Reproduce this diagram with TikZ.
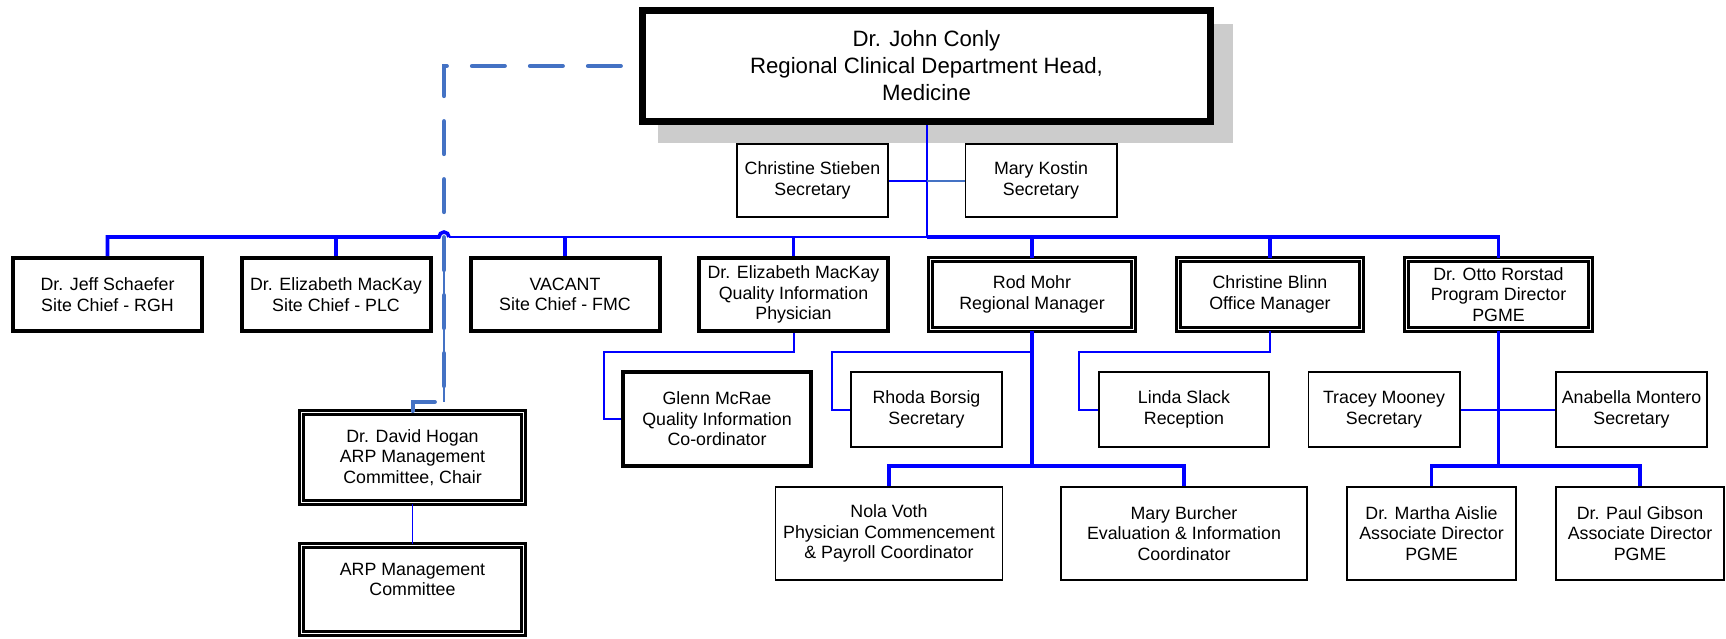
\documentclass[tikz,border=0pt]{standalone}
\usepackage{fontspec}
\setmainfont{Liberation Sans}
\definecolor{chartblue}{RGB}{0,0,255}
\definecolor{dashblue}{RGB}{68,114,196}
\definecolor{shadowgray}{RGB}{204,204,204}
\usetikzlibrary{calc}
\begin{document}
\begin{tikzpicture}[x=0.5pt, y=-0.5pt,
  headbox/.style={draw, line width=3.6pt, fill=white, align=center, inner sep=1pt,
    font=\fontsize{11.1}{13.5}\selectfont},
  chiefbox/.style={draw, line width=2pt, fill=white, align=center, inner sep=1pt,
    font=\fontsize{8.9}{10.3}\selectfont},
  mgrbox/.style={draw, line width=1.3pt, double=white, double distance=0.8pt, fill=white,
    align=center, inner sep=1pt, font=\fontsize{8.9}{10.3}\selectfont},
  staffbox/.style={draw, line width=0.8pt, fill=white, align=center, inner sep=1pt,
    font=\fontsize{8.9}{10.3}\selectfont},
  busline/.style={chartblue, line width=1.8pt},
  sideline/.style={chartblue, line width=1pt},
  dashline/.style={dashblue, line width=2pt, line cap=round,
    dash pattern=on 16.5pt off 12.5pt, dash phase=20pt}]

\useasboundingbox (0,0) rectangle (1726,638);

% head and shadow
\fill[shadowgray] (658,24) rectangle (1233,143);
\node[headbox, minimum width=284pt, minimum height=55.4pt] (head) at (926.5,66)
  {Dr. John Conly\\Regional Clinical Department Head,\\Medicine};

\node[staffbox, minimum width=75.7pt, minimum height=36.7pt] (stieben) at (812.5,180.5) {Christine Stieben\\Secretary};
\node[staffbox, minimum width=75.7pt, minimum height=36.7pt] (kostin) at (1041,180.5) {Mary Kostin\\Secretary};

% first level
\node[chiefbox, minimum width=94.5pt, minimum height=36.5pt] (schaefer) at (107.5,294.5) {Dr. Jeff Schaefer\\Site Chief - RGH};
\node[chiefbox, minimum width=94.5pt, minimum height=36.5pt] (mackayplc) at (336,294.5) {Dr. Elizabeth MacKay\\Site Chief - PLC};
\node[chiefbox, minimum width=94.5pt, minimum height=36.5pt] (vacant) at (565,294.5) {VACANT\\Site Chief - FMC};
\node[chiefbox, minimum width=94.5pt, minimum height=36.5pt] (mackayqip) at (793.5,294.5) {Dr. Elizabeth MacKay\\Quality Information\\Physician};
\node[mgrbox, minimum width=101.6pt, minimum height=35.1pt] (mohr) at (1032,294.5) {Rod Mohr\\Regional Manager};
\node[mgrbox, minimum width=91.6pt, minimum height=35.1pt] (blinn) at (1270,294.5) {Christine Blinn\\Office Manager};
\node[mgrbox, minimum width=92.1pt, minimum height=35.1pt] (rorstad) at (1498.5,294.5) {Dr. Otto Rorstad\\Program Director\\PGME};

% second level
\node[chiefbox, minimum width=94pt, minimum height=47pt] (mcrae) at (717,419) {Glenn McRae\\Quality Information\\Co-ordinator};
\node[staffbox, minimum width=75.7pt, minimum height=37.7pt] (borsig) at (926.5,409.5) {Rhoda Borsig\\Secretary};
\node[staffbox, minimum width=85.2pt, minimum height=37.7pt] (slack) at (1184,409.5) {Linda Slack\\Reception};
\node[staffbox, minimum width=75.7pt, minimum height=37.7pt] (mooney) at (1384,409.5) {Tracey Mooney\\Secretary};
\node[staffbox, minimum width=75.7pt, minimum height=37.7pt] (montero) at (1631.5,409.5) {Anabella Montero\\Secretary};

\node[staffbox, minimum width=113.4pt, minimum height=46.7pt] (voth) at (889,533.5) {Nola Voth\\Physician Commencement\\\& Payroll Coordinator};
\node[staffbox, minimum width=123.2pt, minimum height=46.7pt] (burcher) at (1184,533.5) {Mary Burcher\\Evaluation \& Information\\Coordinator};
\node[staffbox, minimum width=84.7pt, minimum height=46.7pt] (aislie) at (1431.5,533.5) {Dr. Martha Aislie\\Associate Director\\PGME};
\node[staffbox, minimum width=84.2pt, minimum height=46.7pt] (gibson) at (1640,533.5) {Dr. Paul Gibson\\Associate Director\\PGME};

% ARP committee
\node[mgrbox, minimum width=111.1pt, minimum height=45.1pt] (hogan) at (412.5,457.5) {Dr. David Hogan\\ARP Management\\Committee, Chair};
\node[mgrbox, minimum width=111.1pt, minimum height=44.1pt] (arp) at (412.5,589.5) {ARP Management\\Committee\\\mbox{}};

\coordinate (bus) at (0,237);
\coordinate (lvl2) at (0,352);
\coordinate (fork) at (0,466);
\coordinate (jog) at (444,402);

% bus line
\draw[busline] (schaefer.north) |- ([xshift=-2.5pt]jog |- bus) arc[start angle=180, end angle=0, radius=2.5pt];
\draw[busline, line width=1.3pt] ([xshift=2.5pt]jog |- bus) -- (head.south |- bus);
\draw[busline] (head.south |- bus) -| (rorstad.north);
\draw[busline] (mackayplc.north) -- (mackayplc.north |- bus);
\draw[busline] (vacant.north) -- (vacant.north |- bus);
\draw[busline] (mackayqip.north) -- (mackayqip.north |- bus);
\draw[busline] (mohr.north) -- (mohr.north |- bus);
\draw[busline] (blinn.north) -- (blinn.north |- bus);
\draw[sideline] (head.south) -- (head.south |- bus);

\draw[sideline] (stieben.east) -- (head.south |- stieben.east);
\draw[dashblue, line width=1pt] (head.south |- stieben.east) -- (kostin.west);

% side branches
\draw[sideline] (mackayqip.south) -- (mackayqip.south |- lvl2) -| ([xshift=-8.5pt]mcrae.west) -- (mcrae.west);
\draw[sideline] (mohr.south |- lvl2) -| ([xshift=-9pt]borsig.west) -- (borsig.west);
\draw[sideline] (blinn.south) -- (blinn.south |- lvl2) -| ([xshift=-9.5pt]slack.west) -- (slack.west);
\draw[sideline] (mooney.east) -- (montero.west);

\draw[busline] (mohr.south) -- (mohr.south |- fork);
\draw[busline] (voth.north) |- (mohr.south |- fork) -| (burcher.north);
\draw[busline] (rorstad.south) -- (rorstad.south |- fork);
\draw[busline] (aislie.north) |- (rorstad.south |- fork) -| (gibson.north);

\draw[chartblue, line width=0.6pt] (hogan.south) -- (arp.north);

% dotted reporting line
\draw[dashblue, line width=0.7pt] (jog |- bus) -- (jog);
\draw[dashline] (head.west) -| (jog) -| (hogan.north);

\end{tikzpicture}
\end{document}
